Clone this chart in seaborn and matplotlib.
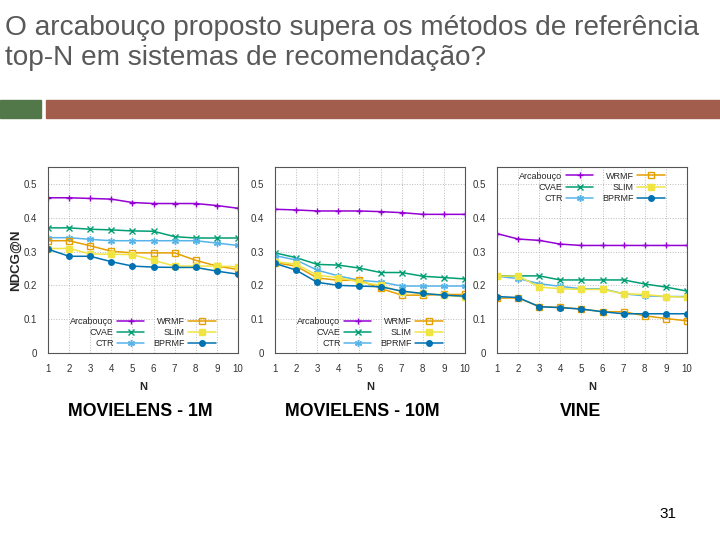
import matplotlib
matplotlib.use("Agg")
import matplotlib.pyplot as plt
import seaborn as sns

sns.set_style("white")
plt.rcParams["font.family"] = ["Liberation Sans", "DejaVu Sans"]

N = list(range(1, 11))
methods = ["Arcabouço", "CVAE", "CTR", "WRMF", "SLIM", "BPRMF"]

ml1m_arcabouco = [0.459, 0.459, 0.457, 0.455, 0.445, 0.442, 0.442, 0.442, 0.436, 0.428]
ml1m_cvae = [0.370, 0.370, 0.366, 0.364, 0.361, 0.360, 0.344, 0.340, 0.340, 0.340]
ml1m_ctr = [0.341, 0.341, 0.336, 0.332, 0.332, 0.332, 0.332, 0.332, 0.325, 0.318]
ml1m_wrmf = [0.332, 0.332, 0.317, 0.301, 0.296, 0.296, 0.296, 0.274, 0.257, 0.247]
ml1m_slim = [0.309, 0.309, 0.293, 0.292, 0.291, 0.274, 0.257, 0.257, 0.257, 0.255]
ml1m_bprmf = [0.307, 0.286, 0.286, 0.270, 0.257, 0.254, 0.253, 0.253, 0.242, 0.233]

ml10m_arcabouco = [0.425, 0.423, 0.420, 0.420, 0.420, 0.418, 0.415, 0.410, 0.410, 0.410]
ml10m_cvae = [0.296, 0.282, 0.262, 0.260, 0.251, 0.238, 0.238, 0.227, 0.223, 0.219]
ml10m_ctr = [0.288, 0.275, 0.245, 0.228, 0.215, 0.210, 0.198, 0.198, 0.198, 0.198]
ml10m_wrmf = [0.267, 0.257, 0.222, 0.215, 0.215, 0.191, 0.171, 0.171, 0.173, 0.173]
ml10m_slim = [0.270, 0.263, 0.230, 0.223, 0.210, 0.200, 0.181, 0.176, 0.171, 0.166]
ml10m_bprmf = [0.265, 0.245, 0.209, 0.200, 0.198, 0.196, 0.183, 0.176, 0.171, 0.168]

vine_arcabouco = [0.353, 0.337, 0.333, 0.322, 0.318, 0.318, 0.318, 0.318, 0.318, 0.318]
vine_cvae = [0.228, 0.228, 0.228, 0.216, 0.216, 0.216, 0.216, 0.204, 0.195, 0.183]
vine_ctr = [0.227, 0.220, 0.205, 0.197, 0.190, 0.190, 0.175, 0.169, 0.167, 0.167]
vine_wrmf = [0.162, 0.163, 0.137, 0.135, 0.130, 0.122, 0.122, 0.110, 0.102, 0.095]
vine_slim = [0.227, 0.228, 0.195, 0.190, 0.188, 0.188, 0.175, 0.173, 0.167, 0.165]
vine_bprmf = [0.167, 0.164, 0.137, 0.134, 0.130, 0.122, 0.116, 0.116, 0.116, 0.116]

datasets = [
    ("MOVIELENS - 1M", [ml1m_arcabouco, ml1m_cvae, ml1m_ctr, ml1m_wrmf, ml1m_slim, ml1m_bprmf]),
    ("MOVIELENS - 10M", [ml10m_arcabouco, ml10m_cvae, ml10m_ctr, ml10m_wrmf, ml10m_slim, ml10m_bprmf]),
    ("VINE", [vine_arcabouco, vine_cvae, vine_ctr, vine_wrmf, vine_slim, vine_bprmf]),
]

# estilo gnuplot: cor, marcador, tamanho, preenchimento
styles = {
    "Arcabouço": ("#9400d3", "+", 5, None),
    "CVAE": ("#009e73", "x", 4.5, None),
    "CTR": ("#56b4e9", (6, 2, 0), 5, None),
    "WRMF": ("#e69f00", "s", 4.5, "none"),
    "SLIM": ("#f0e442", "s", 4.5, None),
    "BPRMF": ("#0072b2", "o", 4, None),
}

fig = plt.figure(figsize=(7.2, 5.4), dpi=100)

# titulo do slide
fig.text(0.007, 1 - 15 / 540, "O arcabouço proposto supera os métodos de referência\ntop-N em sistemas de recomendação?",
         ha="left", va="top", fontsize=20.2, color="#595959", linespacing=1.2)
fig.patches.append(plt.Rectangle((0, 1 - 118 / 540), 41 / 720, 18 / 540, transform=fig.transFigure,
                                 color="#52784a", zorder=0))
fig.patches.append(plt.Rectangle((46 / 720, 1 - 118 / 540), 674 / 720, 18 / 540, transform=fig.transFigure,
                                 color="#a35d4d", zorder=0))

lefts = [48 / 720, 275 / 720, 497 / 720]
captions_x = [140 / 720, 362 / 720, 581 / 720]
for i, (name, series) in enumerate(datasets):
    ax = fig.add_axes([lefts[i], 1 - 353 / 540, 190 / 720, 186 / 540])
    for m, vals in zip(methods, series):
        color, marker, msize, face = styles[m]
        kw = {"markerfacecolor": face} if face else {}
        sns.lineplot(x=N, y=vals, ax=ax, color=color, marker=marker, markersize=msize,
                     markeredgewidth=1.0, markeredgecolor=color, linewidth=1.1, label=m, **kw)
    ax.set_xlim(1, 10)
    ax.set_ylim(0, 0.55)
    ax.set_xticks(N)
    ax.set_yticks([0, 0.1, 0.2, 0.3, 0.4, 0.5])
    ax.set_yticklabels(["0", "0.1", "0.2", "0.3", "0.4", "0.5"])
    ax.tick_params(labelsize=7, length=2, pad=6, colors="#333333")
    ax.grid(True, color="#bbbbbb", linestyle=":", linewidth=0.7)
    for s in ax.spines.values():
        s.set_color("#555555")
        s.set_linewidth(0.8)
    ax.set_xlabel("N", fontsize=8, fontweight="bold", labelpad=6)
    if i == 0:
        ax.set_ylabel("NDCG@N", fontsize=9.5, fontweight="bold", labelpad=1)
    else:
        ax.set_ylabel("")
    loc = "upper center" if i == 2 else "lower center"
    ax.legend(loc=loc, ncol=2, markerfirst=False, frameon=False, fontsize=6.5,
              handlelength=3, labelspacing=0.25, columnspacing=1.0, borderaxespad=0.1,
              handletextpad=0.4)
    fig.text(captions_x[i], 1 - 412 / 540, name, ha="center", va="center",
             fontsize=12.8, fontweight="bold", color="black")

fig.text(668 / 720, 1 - 514 / 540, "31", ha="center", va="center", fontsize=11, color="black")

fig.savefig("out.png", dpi=100)
